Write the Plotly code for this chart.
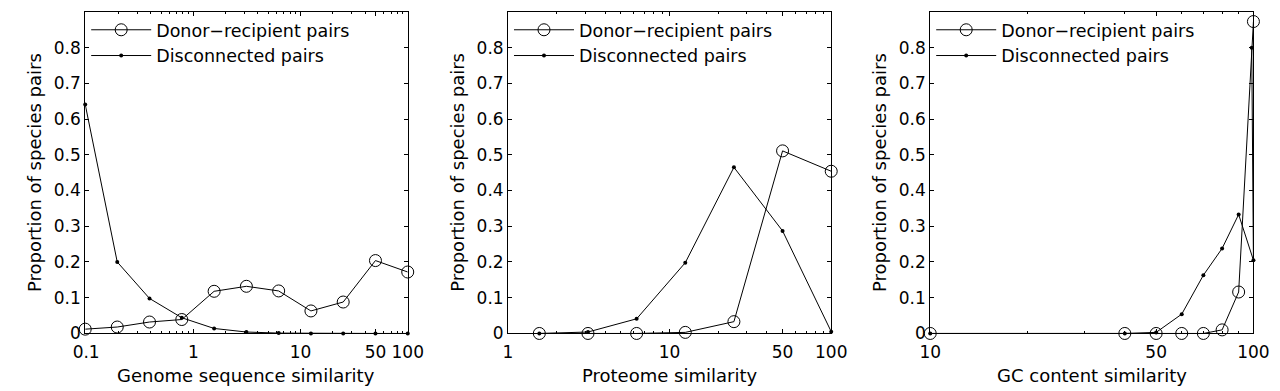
import math
import plotly.graph_objects as go

# ---------------- data ----------------
genome_x = [0.098, 0.195, 0.39, 0.78, 1.5625, 3.125, 6.25, 12.5, 25, 50, 100]
genome_donor = [0.012, 0.018, 0.032, 0.039, 0.118, 0.132, 0.119, 0.063, 0.088, 0.204, 0.172]
genome_disc = [0.641, 0.200, 0.098, 0.044, 0.014, 0.004, 0.001, 0.0, 0.0, 0.0, 0.0]

proteome_x = [1.5625, 3.125, 6.25, 12.5, 25, 50, 100]
proteome_donor = [0.0, 0.0, 0.0, 0.003, 0.033, 0.511, 0.454]
proteome_disc = [0.0, 0.004, 0.041, 0.198, 0.465, 0.287, 0.005]

gc_x_donor = [10, 40, 50, 60, 70, 80, 90, 100]
gc_donor = [0.0, 0.0, 0.0, 0.0, 0.0, 0.010, 0.116, 0.873]
gc_x_disc = [10, 40, 50, 60, 70, 80, 90, 100, 98.8]
gc_disc = [0.0, 0.0, 0.003, 0.054, 0.163, 0.238, 0.333, 0.205, 0.80]

y_ticks = [0, 0.1, 0.2, 0.3, 0.4, 0.5, 0.6, 0.7, 0.8]
y_ticktext = ["0", "0.1", "0.2", "0.3", "0.4", "0.5", "0.6", "0.7", "0.8"]

genome_ticks = [0.1, 1, 10, 50, 100]
genome_ticktext = ["0.1", "1", "10", "50", "100"]
proteome_ticks = [1, 10, 50, 100]
proteome_ticktext = ["1", "10", "50", "100"]
gc_ticks = [10, 50, 100]
gc_ticktext = ["10", "50", "100"]

genome_minor = [0.2, 0.3, 0.4, 0.5, 0.6, 0.7, 0.8, 0.9, 2, 3, 4, 5, 6, 7, 8, 9,
                20, 30, 40, 60, 70, 80, 90]
proteome_minor = [2, 3, 4, 5, 6, 7, 8, 9, 20, 30, 40, 60, 70, 80, 90]
gc_minor = [20, 30, 40, 60, 70, 80, 90]

x_titles = ["Genome sequence similarity", "Proteome similarity", "GC content similarity"]
y_title = "Proportion of species pairs"
name_donor = "Donor\u2212recipient pairs"
name_disc = "Disconnected pairs"

# ---------------- layout geometry ----------------
W, H = 1280, 391
FONT = "DejaVu Sans"
panels_px = [(65.7, 395.7), (498.3, 829.0), (930.3, 1261.0)]
top_px, bot_px = 4.0, 334.0
ydom = [(H - bot_px) / H, (H - top_px) / H]

fig = go.Figure()

panel_data = [
    (genome_x, genome_donor, genome_x, genome_disc),
    (proteome_x, proteome_donor, proteome_x, proteome_disc),
    (gc_x_donor, gc_donor, gc_x_disc, gc_disc),
]
legends = ["legend", "legend2", "legend3"]

for i, (xd, yd, xs, ys) in enumerate(panel_data):
    ax = "" if i == 0 else str(i + 1)
    fig.add_trace(go.Scatter(
        x=xd, y=yd, mode="lines+markers", name=name_donor,
        xaxis="x" + ax, yaxis="y" + ax, legend=legends[i],
        line=dict(color="black", width=1),
        marker=dict(symbol="circle-open", size=12, color="black", line=dict(width=1)),
        cliponaxis=False,
    ))
    fig.add_trace(go.Scatter(
        x=xs, y=ys, mode="lines+markers", name=name_disc,
        xaxis="x" + ax, yaxis="y" + ax, legend=legends[i],
        line=dict(color="black", width=1),
        marker=dict(symbol="circle", size=4, color="black"),
        cliponaxis=False,
    ))

xranges = [[math.log10(0.098), 2], [0, 2], [1, 2]]
xticks = [(genome_ticks, genome_ticktext, genome_minor),
          (proteome_ticks, proteome_ticktext, proteome_minor),
          (gc_ticks, gc_ticktext, gc_minor)]

layout = dict(
    width=W, height=H,
    margin=dict(l=0, r=0, t=0, b=0),
    paper_bgcolor="white", plot_bgcolor="white",
    font=dict(family=FONT, size=17, color="black"),
    showlegend=True,
)

annotations = []
for i in range(3):
    ax = "" if i == 0 else str(i + 1)
    l, r = panels_px[i]
    tv, tt, mv = xticks[i]
    layout["xaxis" + ax] = dict(
        type="log", range=xranges[i], domain=[l / W, r / W],
        anchor="y" + ax,
        tickmode="array", tickvals=tv, ticktext=tt,
        ticks="inside", ticklen=4, tickwidth=1, tickcolor="black",
        ticklabelstandoff=3,
        minor=dict(tickmode="array", tickvals=mv, ticks="inside", ticklen=2,
                   tickwidth=1, tickcolor="black", showgrid=False),
        showline=True, linecolor="black", linewidth=1, mirror="ticks",
        showgrid=False, zeroline=False,
        tickfont=dict(family=FONT, size=17, color="black"),
    )
    layout["yaxis" + ax] = dict(
        range=[0, 0.9], domain=ydom, anchor="x" + ax,
        tickmode="array", tickvals=y_ticks, ticktext=y_ticktext,
        ticks="inside", ticklen=4, tickwidth=1, tickcolor="black",
        showline=True, linecolor="black", linewidth=1, mirror="ticks",
        showgrid=False, zeroline=False,
        tickfont=dict(family=FONT, size=17, color="black"),
    )
    layout[legends[i]] = dict(
        x=(l + 1) / W, xanchor="left",
        y=(H - 4) / H, yanchor="top",
        bgcolor="rgba(0,0,0,0)", borderwidth=0,
        font=dict(family=FONT, size=17.5, color="black"),
        itemwidth=60, tracegroupgap=0,
    )
    # axis titles
    annotations.append(dict(
        text=x_titles[i], xref="paper", yref="paper",
        x=(l + r) / 2 / W, y=(H - 377) / H, xanchor="center", yanchor="middle",
        showarrow=False, font=dict(family=FONT, size=18, color="black"),
    ))
    annotations.append(dict(
        text=y_title, xref="paper", yref="paper",
        x=(l - 52) / W, y=(ydom[0] + ydom[1]) / 2, xanchor="center", yanchor="middle",
        textangle=-90, showarrow=False, font=dict(family=FONT, size=18, color="black"),
    ))

layout["annotations"] = annotations
fig.update_layout(**layout)
fig.write_html("out.html")
